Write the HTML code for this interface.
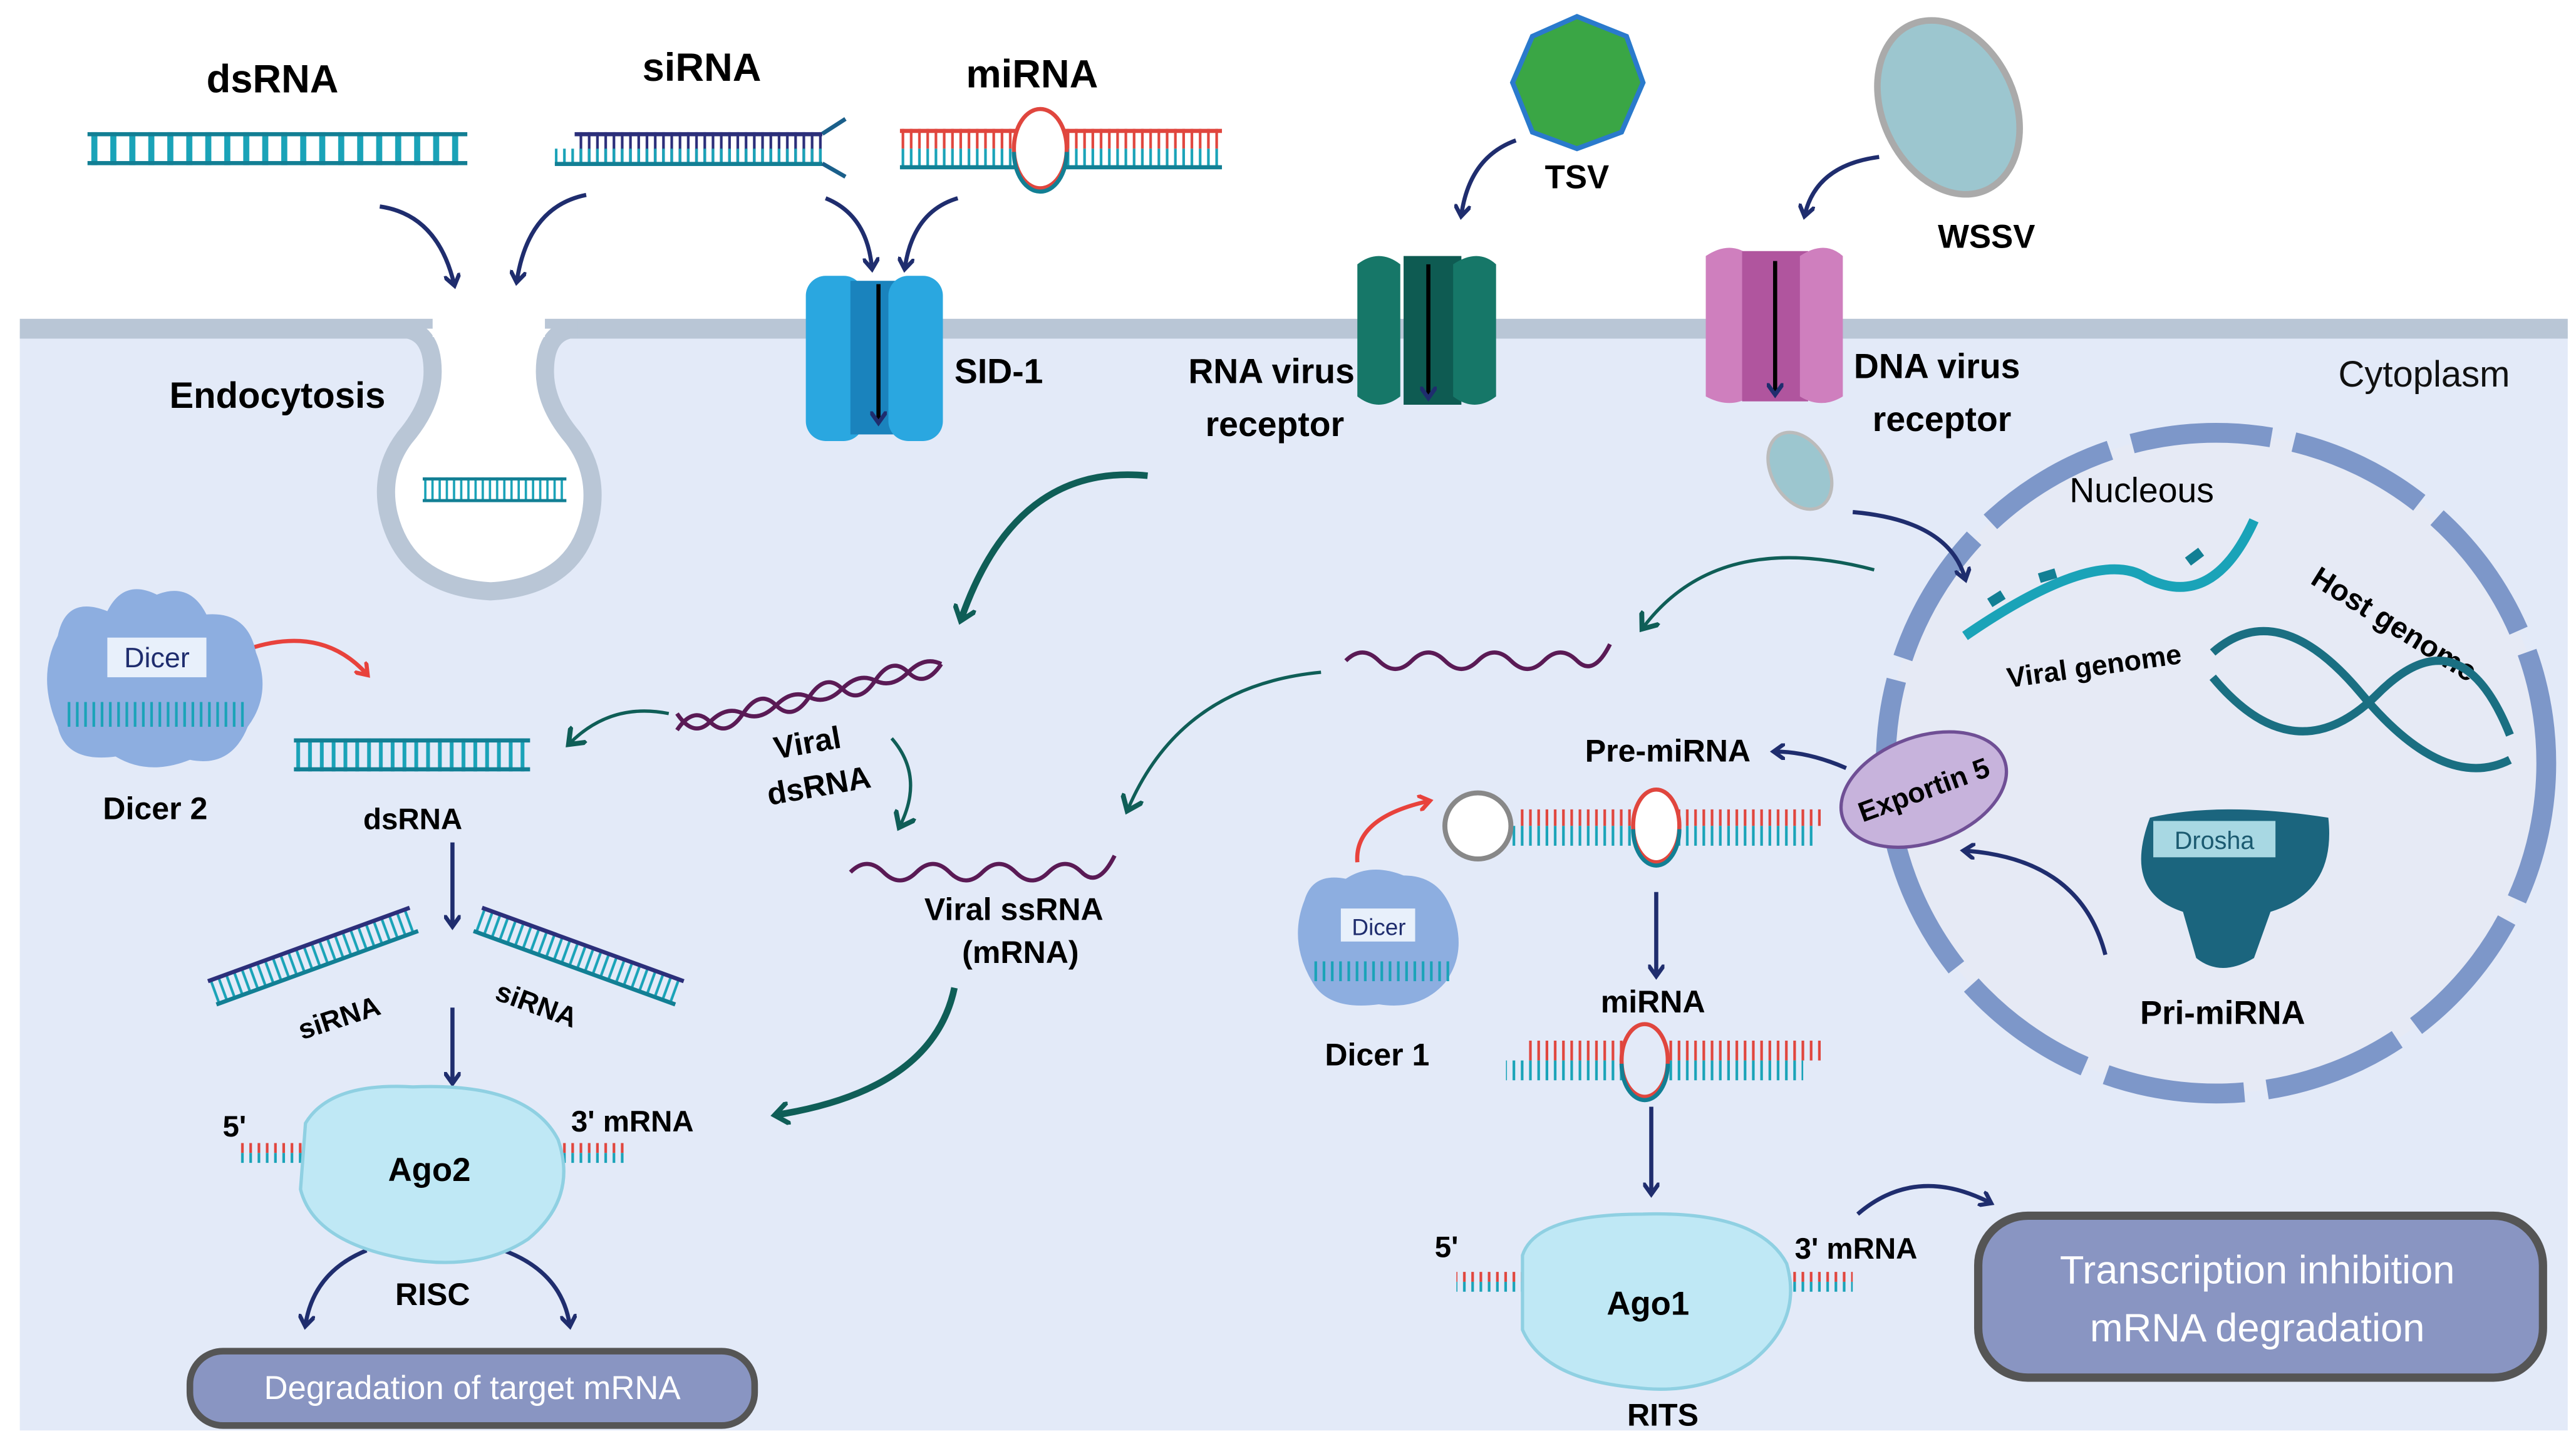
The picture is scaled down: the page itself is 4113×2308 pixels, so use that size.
<!DOCTYPE html>
<html><head><meta charset="utf-8">
<style>
html,body{margin:0;padding:0;background:#fff;}
svg{display:block;}
text{font-family:"Liberation Sans",Arial,sans-serif;}
</style></head>
<body>
<svg width="4113" height="2308" viewBox="0 0 1560 875.4" preserveAspectRatio="none" xmlns="http://www.w3.org/2000/svg">
<defs>
<pattern id="tk" width="5" height="20" patternUnits="userSpaceOnUse"><rect x="1" width="1.6" height="20" fill="#1aa3b8"/></pattern>
<pattern id="tkn" width="5" height="20" patternUnits="userSpaceOnUse"><rect x="1" width="1.6" height="20" fill="#2c2f7a"/></pattern>
<pattern id="tkr" width="5" height="20" patternUnits="userSpaceOnUse"><rect x="1" width="1.6" height="20" fill="#e0463e"/></pattern>
<marker id="ah" markerWidth="10" markerHeight="10" refX="6" refY="5" orient="auto" markerUnits="userSpaceOnUse"><path d="M0,0 L7,5 L0,10" fill="none" stroke="#1f2d6e" stroke-width="2.5"/></marker>
<marker id="ahg" markerWidth="14" markerHeight="14" refX="8" refY="7" orient="auto" markerUnits="userSpaceOnUse"><path d="M0,0 L9,7 L0,14" fill="none" stroke="#0f5e57" stroke-width="3"/></marker>
<marker id="ahr" markerWidth="10" markerHeight="10" refX="6" refY="5" orient="auto" markerUnits="userSpaceOnUse"><path d="M0,0 L7,5 L0,10" fill="none" stroke="#e8423c" stroke-width="2.5"/></marker>
<g id="ds"><rect x="0" y="0" width="100" height="20" fill="url(#tk)"/><rect x="0" y="0" width="100" height="2.5" fill="#127f94"/><rect x="0" y="17.5" width="100" height="2.5" fill="#127f94"/></g>
</defs>

<rect x="12" y="200" width="1543" height="666" fill="#e3eaf8"/>
<rect x="12" y="193" width="1543" height="12" fill="#b9c6d6"/>
<path d="M242,199 Q262,199 262,225 Q262,245 245,265 Q230,285 235,310 Q245,355 297,358 Q350,355 358,310 Q362,285 347,265 Q330,245 330,225 Q330,199 350,199" fill="#fff" stroke="#b9c6d6" stroke-width="11"/>
<rect x="262" y="190" width="68" height="14" fill="#fff"/>
<g transform="translate(256,289) scale(0.87,0.75)"><use href="#ds"/></g>

<text x="165" y="56" font-size="24" font-weight="bold" text-anchor="middle">dsRNA</text>
<text x="425" y="49" font-size="24" font-weight="bold" text-anchor="middle">siRNA</text>
<text x="625" y="53" font-size="24" font-weight="bold" text-anchor="middle">miRNA</text>
<g transform="translate(53,80) scale(2.3,1)"><use href="#ds"/></g>
<rect x="348" y="80" width="150" height="20" fill="url(#tkn)"/><rect x="336" y="90" width="162" height="10" fill="url(#tk)"/>
<rect x="348" y="80" width="150" height="2.5" fill="#2c2f7a"/><rect x="336" y="98" width="162" height="2.5" fill="#127f94"/>
<path d="M498,81 L512,72 M498,99 L512,107" stroke="#1a5f8a" stroke-width="2.5"/>
<rect x="545" y="78" width="195" height="12" fill="url(#tkr)"/><rect x="545" y="90" width="195" height="12" fill="url(#tk)"/>
<rect x="545" y="78" width="195" height="2.5" fill="#e0463e"/><rect x="545" y="100" width="195" height="2.5" fill="#127f94"/>
<ellipse cx="630" cy="90" rx="16" ry="24" fill="#fff" stroke="#e0463e" stroke-width="2.5"/>
<path d="M614,92 A16,24 0 0 0 646,92" fill="none" stroke="#127f94" stroke-width="2.5"/>

<g fill="none" stroke="#1f2d6e" stroke-width="2.5" marker-end="url(#ah)">
<path d="M230,125 Q265,130 275,172"/><path d="M355,118 Q320,125 313,170"/>
<path d="M500,120 Q525,130 528,162"/><path d="M580,120 Q553,128 548,162"/>
<path d="M918,85 Q890,95 885,130"/><path d="M1138,95 Q1100,100 1093,130"/>
<path d="M274,510 L274,560"/><path d="M274,610 L274,655"/>
<path d="M1003,540 L1003,590"/><path d="M1000,670 L1000,722"/>
<path d="M222,757 Q190,770 185,802"/><path d="M305,757 Q340,770 345,802"/>
<path d="M1125,735 Q1160,705 1205,728"/>
</g>
<g fill="none" stroke="#e8423c" stroke-width="2.5" marker-end="url(#ahr)">
<path d="M150,393 Q195,378 222,408"/><path d="M822,522 Q820,495 865,485"/>
</g>
<g fill="none" stroke="#0f5e57" stroke-width="4" marker-end="url(#ahg)">
<path d="M695,288 Q615,280 582,375"/><path d="M578,598 Q565,660 470,675"/>
</g>
<g fill="none" stroke="#0f5e57" stroke-width="2" marker-end="url(#ahg)">
<path d="M405,432 Q370,425 345,450"/><path d="M540,447 Q560,470 545,500"/>
<path d="M1135,345 Q1040,320 995,380"/><path d="M800,407 Q715,415 683,490"/>
</g>

<rect x="488" y="167" width="35" height="100" rx="12" fill="#2aa7e0"/>
<rect x="515" y="170" width="32" height="93" fill="#1a83bd"/>
<rect x="538" y="167" width="33" height="100" rx="12" fill="#2aa7e0"/>
<path d="M532,172 L532,255" stroke="#000" stroke-width="2.5" marker-end="url(#ah)"/>
<text x="578" y="232" font-size="21" font-weight="bold">SID-1</text>

<path d="M822,160 Q835,150 848,160 L848,240 Q835,250 822,240 Z" fill="#167768"/>
<path d="M850,155 L885,155 L885,245 L850,245 Z" fill="#0e5b52"/>
<path d="M880,160 Q895,150 906,160 L906,240 Q893,250 880,240 Z" fill="#167768"/>
<path d="M865,160 L865,240" stroke="#000" stroke-width="2.5" marker-end="url(#ah)"/>
<text x="770" y="232" font-size="21" font-weight="bold" text-anchor="middle">RNA virus</text>
<text x="772" y="264" font-size="21" font-weight="bold" text-anchor="middle">receptor</text>
<path d="M1033,155 Q1048,145 1060,155 L1060,240 Q1048,248 1033,240 Z" fill="#cf7fbe"/>
<path d="M1055,152 L1095,152 L1095,243 L1055,243 Z" fill="#b0559e"/>
<path d="M1090,155 Q1105,145 1116,155 L1116,240 Q1103,248 1090,240 Z" fill="#cf7fbe"/>
<path d="M1075,158 L1075,238" stroke="#000" stroke-width="2.5" marker-end="url(#ah)"/>
<text x="1173" y="229" font-size="21" font-weight="bold" text-anchor="middle">DNA virus</text>
<text x="1176" y="261" font-size="21" font-weight="bold" text-anchor="middle">receptor</text>

<polygon points="955,10 985,22 995,50 982,80 955,90 928,80 916,50 928,22" fill="#3aa645" stroke="#2a7acc" stroke-width="3"/>
<text x="955" y="114" font-size="20" font-weight="bold" text-anchor="middle">TSV</text>
<ellipse cx="1180" cy="65" rx="40" ry="55" transform="rotate(-25 1180 65)" fill="#9cc6cf" stroke="#aaa" stroke-width="4"/>
<text x="1203" y="150" font-size="20" font-weight="bold" text-anchor="middle">WSSV</text>
<ellipse cx="1090" cy="285" rx="17" ry="25" transform="rotate(-30 1090 285)" fill="#9cc6cf" stroke="#bbb" stroke-width="2"/>

<text x="1468" y="234" font-size="22" text-anchor="middle" fill="#111">Cytoplasm</text>
<text x="168" y="247" font-size="22" font-weight="bold" text-anchor="middle">Endocytosis</text>

<circle cx="1342" cy="462" r="200" fill="#e6eaf5" stroke="#7d97c9" stroke-width="12" stroke-dasharray="85 14"/>
<path d="M1122,310 Q1180,315 1190,350" fill="none" stroke="#1f2d6e" stroke-width="2.5" marker-end="url(#ah)"/>
<text x="1297" y="304" font-size="21" text-anchor="middle">Nucleous</text>
<path d="M1190,385 Q1270,330 1300,350 Q1340,370 1365,315" fill="none" stroke="#1aa3b8" stroke-width="6"/>
<path d="M1205,365 l8,-5 M1235,350 l10,-3 M1325,340 l8,-6" stroke="#127f94" stroke-width="6"/>
<text x="1268" y="409" font-size="17" font-weight="bold" text-anchor="middle" transform="rotate(-8 1268 402)">Viral genome</text>
<text x="1450" y="384" font-size="18" font-weight="bold" text-anchor="middle" transform="rotate(32 1450 378)">Host genome</text>
<path d="M1340,395 Q1380,360 1430,420 T1520,460" fill="none" stroke="#1a6f82" stroke-width="5"/>
<path d="M1340,410 Q1390,470 1440,420 T1520,445" fill="none" stroke="#1a6f82" stroke-width="5"/>
<path d="M1302,495 Q1345,485 1410,495 Q1415,540 1375,552 L1365,580 Q1345,592 1330,580 L1322,552 Q1285,540 1302,495 Z" fill="#1b657e"/>
<rect x="1304" y="497" width="74" height="22" fill="#a8d8e3"/>
<text x="1341" y="514" font-size="15" text-anchor="middle" fill="#1b5a70">Drosha</text>
<text x="1346" y="620" font-size="20" font-weight="bold" text-anchor="middle">Pri-miRNA</text>
<path d="M1275,578 Q1260,520 1190,515" fill="none" stroke="#1f2d6e" stroke-width="2.5" marker-end="url(#ah)"/>
<path d="M1118,465 Q1095,455 1075,455" fill="none" stroke="#1f2d6e" stroke-width="2.5" marker-end="url(#ah)"/>
<ellipse cx="1165" cy="478" rx="52" ry="32" transform="rotate(-20 1165 478)" fill="#c7b3dc" stroke="#6f4f95" stroke-width="2"/>
<text x="1165" y="484" font-size="17" font-weight="bold" text-anchor="middle" transform="rotate(-20 1165 478)">Exportin 5</text>

<path d="M815,400 q10,-10 20,0 t20,0 t20,0 t20,0 t20,0 t20,0 t20,0 t20,-10" fill="none" stroke="#5a1a55" stroke-width="2.5"/>
<path d="M515,528 q10,-10 20,0 t20,0 t20,0 t20,0 t20,0 t20,0 t20,0 t20,-10" fill="none" stroke="#5a1a55" stroke-width="2.5"/>
<path d="M410,442 q10,-15 20,-5 t20,-5 t20,-5 t20,-5 t20,-5 t20,-5 t20,-5 t20,-5" fill="none" stroke="#5a1a55" stroke-width="2.5"/>
<path d="M410,432 q10,15 20,5 t20,-5 t20,-5 t20,-5 t20,-5 t20,-5 t20,-5 t20,-5" fill="none" stroke="#5a1a55" stroke-width="2.5"/>
<text x="490" y="456" font-size="19" font-weight="bold" text-anchor="middle" transform="rotate(-10 490 456)">Viral</text>
<text x="497" y="482" font-size="19" font-weight="bold" text-anchor="middle" transform="rotate(-10 497 482)">dsRNA</text>
<text x="614" y="557" font-size="19" font-weight="bold" text-anchor="middle">Viral ssRNA</text>
<text x="618" y="583" font-size="19" font-weight="bold" text-anchor="middle">(mRNA)</text>

<path d="M35,385 Q40,360 65,370 Q75,350 95,360 Q115,352 125,372 Q150,370 155,395 Q165,420 150,440 Q140,465 115,460 Q90,470 70,458 Q40,462 35,440 Q22,410 35,385 Z" fill="#8daee0"/>
<rect x="65" y="386" width="60" height="24" fill="#e8f0fb"/>
<text x="95" y="404" font-size="17" text-anchor="middle" fill="#1f2d6e">Dicer</text>
<rect x="40" y="425" width="110" height="15" fill="url(#tk)"/>
<text x="94" y="496" font-size="19" font-weight="bold" text-anchor="middle">Dicer 2</text>
<g transform="translate(178,447) scale(1.43,1)"><use href="#ds"/></g>
<text x="250" y="502" font-size="18" font-weight="bold" text-anchor="middle">dsRNA</text>
<g transform="rotate(-20 190 580)"><rect x="125" y="572" width="130" height="14" fill="url(#tk)"/><rect x="125" y="570" width="130" height="2.5" fill="#2c2f7a"/><rect x="125" y="585" width="130" height="2.5" fill="#127f94"/></g>
<g transform="rotate(20 350 580)"><rect x="285" y="572" width="130" height="14" fill="url(#tk)"/><rect x="285" y="570" width="130" height="2.5" fill="#2c2f7a"/><rect x="285" y="585" width="130" height="2.5" fill="#127f94"/></g>
<text x="205" y="622" font-size="17" font-weight="bold" text-anchor="middle" transform="rotate(-18 205 615)">siRNA</text>
<text x="325" y="614" font-size="17" font-weight="bold" text-anchor="middle" transform="rotate(20 325 608)">siRNA</text>

<rect x="145" y="692" width="235" height="6" fill="url(#tkr)"/><rect x="145" y="698" width="235" height="6" fill="url(#tk)"/>
<path d="M185,680 Q200,655 250,658 Q320,655 338,690 Q350,725 320,750 Q290,770 245,762 Q190,752 182,720 Z" fill="#bfe8f5" stroke="#8fd0e2" stroke-width="2"/>
<text x="260" y="715" font-size="20" font-weight="bold" text-anchor="middle">Ago2</text>
<text x="142" y="688" font-size="18" font-weight="bold" text-anchor="middle">5'</text>
<text x="383" y="685" font-size="18" font-weight="bold" text-anchor="middle">3' mRNA</text>
<text x="262" y="790" font-size="19" font-weight="bold" text-anchor="middle">RISC</text>
<rect x="115" y="818" width="342" height="45" rx="20" fill="#8995c2" stroke="#555" stroke-width="4"/>
<text x="286" y="847" font-size="20" fill="#fff" text-anchor="middle">Degradation of target mRNA</text>

<text x="1010" y="461" font-size="19" font-weight="bold" text-anchor="middle">Pre-miRNA</text>
<rect x="920" y="490" width="185" height="10" fill="url(#tkr)"/><rect x="910" y="500" width="190" height="12" fill="url(#tk)"/>
<circle cx="895" cy="500" r="20" fill="#fff" stroke="#888" stroke-width="3"/>
<ellipse cx="1003" cy="500" rx="14" ry="22" fill="#fff" stroke="#e0463e" stroke-width="2.5"/>
<path d="M989,502 A14,22 0 0 0 1017,502" fill="none" stroke="#127f94" stroke-width="2.5"/>
<path d="M790,545 Q795,528 815,532 Q830,522 850,530 Q870,530 878,548 Q890,575 875,595 Q860,612 835,608 Q805,612 795,595 Q780,570 790,545 Z" fill="#8daee0"/>
<rect x="812" y="550" width="45" height="20" fill="#e8f0fb"/>
<text x="835" y="566" font-size="14" text-anchor="middle" fill="#1f2d6e">Dicer</text>
<rect x="793" y="582" width="85" height="12" fill="url(#tk)"/>
<text x="834" y="645" font-size="19" font-weight="bold" text-anchor="middle">Dicer 1</text>
<text x="1001" y="613" font-size="19" font-weight="bold" text-anchor="middle">miRNA</text>
<rect x="925" y="630" width="180" height="12" fill="url(#tkr)"/><rect x="912" y="642" width="180" height="12" fill="url(#tk)"/>
<ellipse cx="996" cy="642" rx="14" ry="22" fill="#e3eaf8" stroke="#e0463e" stroke-width="2.5"/>
<path d="M982,644 A14,22 0 0 0 1010,644" fill="none" stroke="#127f94" stroke-width="2.5"/>
<rect x="882" y="770" width="240" height="6" fill="url(#tkr)"/><rect x="882" y="776" width="240" height="6" fill="url(#tk)"/>
<path d="M922,760 Q930,735 995,735 Q1065,733 1082,765 Q1092,800 1060,825 Q1030,845 990,840 Q935,835 922,805 Z" fill="#bfe8f5" stroke="#8fd0e2" stroke-width="2"/>
<text x="998" y="796" font-size="20" font-weight="bold" text-anchor="middle">Ago1</text>
<text x="876" y="761" font-size="18" font-weight="bold" text-anchor="middle">5'</text>
<text x="1124" y="762" font-size="18" font-weight="bold" text-anchor="middle">3' mRNA</text>
<text x="1007" y="863" font-size="19" font-weight="bold" text-anchor="middle">RITS</text>
<rect x="1198" y="736" width="342" height="98" rx="30" fill="#8995c2" stroke="#555" stroke-width="5"/>
<text x="1367" y="777" font-size="24" fill="#fff" text-anchor="middle">Transcription inhibition</text>
<text x="1367" y="812" font-size="24" fill="#fff" text-anchor="middle">mRNA degradation</text>
</svg>
</body></html>
